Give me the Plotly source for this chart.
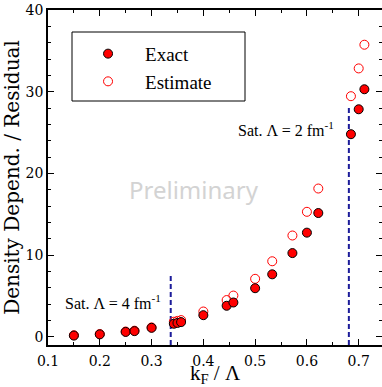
import plotly.graph_objects as go

# ---- data ----
kf_exact = [0.15, 0.20, 0.25, 0.267, 0.30, 0.343, 0.35, 0.357, 0.40, 0.445, 0.458,
            0.50, 0.533, 0.572, 0.60, 0.622, 0.685, 0.70, 0.711]
exact = [0.15, 0.3, 0.6, 0.7, 1.1, 1.6, 1.7, 1.8, 2.65, 3.8, 4.2,
         5.95, 7.65, 10.25, 12.75, 15.15, 24.8, 27.85, 30.3]
kf_est = kf_exact
estimate = [0.2, 0.35, 0.65, 0.75, 1.15, 1.85, 1.95, 2.05, 3.1, 4.5, 5.05,
            7.1, 9.25, 12.4, 15.3, 18.15, 29.45, 32.85, 35.75]

sat_kf = [0.337, 0.681]          # saturation positions (dashed lines)
sat_top = [7.6, 28.0]            # top ends of the dashed lines
sat_labels = ["Sat. Λ = 4 fm<sup>-1</sup>", "Sat. Λ = 2 fm<sup>-1</sup>"]
sat_label_x = [0.322, 0.656]
sat_label_y = [4.3, 25.4]

x_range = [0.1, 0.745]
y_range = [-1, 40]
x_ticks = [0.1, 0.2, 0.3, 0.4, 0.5, 0.6, 0.7]
y_ticks = [0, 10, 20, 30, 40]

SERIF = "Liberation Serif"
TICKF = "DejaVu Serif"

fig = go.Figure()

for xs, top in zip(sat_kf, sat_top):
    fig.add_trace(go.Scatter(x=[xs, xs], y=[y_range[0], top], mode="lines",
                             line=dict(color="#1c1c9a", width=2, dash="5px,3px"),
                             showlegend=False, hoverinfo="skip"))

fig.add_trace(go.Scatter(x=kf_est, y=estimate, mode="markers", name="Estimate",
                         marker=dict(symbol="circle-open", size=9, color="#ff0000",
                                     line=dict(width=1, color="#ff0000"))))
fig.add_trace(go.Scatter(x=kf_exact, y=exact, mode="markers", name="Exact",
                         marker=dict(symbol="circle", size=9, color="#ff0000",
                                     line=dict(width=1, color="black"))))

for t, x, y in zip(sat_labels, sat_label_x, sat_label_y):
    fig.add_annotation(x=x, y=y, text=t, showarrow=False, xanchor="right",
                       yanchor="middle", font=dict(family=SERIF, size=16, color="black"))

fig.add_annotation(x=0.382, y=18.0, text="Preliminary", showarrow=False,
                   font=dict(family="Noto Sans", size=24, color="#d3d3d3"))

axis_common = dict(showline=True, linecolor="black", linewidth=1.5, mirror="allticks",
                   ticks="inside", ticklen=6, tickwidth=1, tickcolor="black",
                   showgrid=False, zeroline=False, automargin=False,
                   tickfont=dict(family=TICKF, size=14, color="black"))

fig.update_xaxes(range=x_range, tickvals=x_ticks, ticktext=[f"{v:.1f}" for v in x_ticks],
                 ticklabelstandoff=2,
                 minor=dict(dtick=0.05, tick0=0.1, ticks="inside", ticklen=3, tickcolor="black"),
                 title=dict(text="k<sub>F</sub> / Λ", font=dict(family=SERIF, size=21, color="black"),
                            standoff=4),
                 **axis_common)
fig.update_yaxes(range=y_range, tickvals=y_ticks,
                 minor=dict(dtick=2, tick0=0, ticks="inside", ticklen=3, tickcolor="black"),
                 title=dict(text="Density Depend. / Residual",
                            font=dict(family=TICKF, size=20, color="black"), standoff=4),
                 **axis_common)

fig.add_shape(type="rect", xref="paper", yref="paper",
              x0=(72 - 48) / 334, x1=(245 - 48) / 334,
              y0=(345 - 101) / 335, y1=(345 - 32) / 335,
              line=dict(color="black", width=1), fillcolor="rgba(0,0,0,0)", layer="above")

fig.update_layout(
    width=382, height=387,
    margin=dict(l=48, r=0, t=10, b=42, autoexpand=False),
    paper_bgcolor="white", plot_bgcolor="white",
    legend=dict(x=0.069, y=0.926, xanchor="left", yanchor="top", traceorder="reversed",
                bgcolor="rgba(0,0,0,0)", borderwidth=0, itemwidth=64,
                font=dict(family=SERIF, size=19, color="black"), tracegroupgap=0),
)

fig.write_html("out.html", config={"displayModeBar": False},
               post_script="document.body.style.margin='0';")
